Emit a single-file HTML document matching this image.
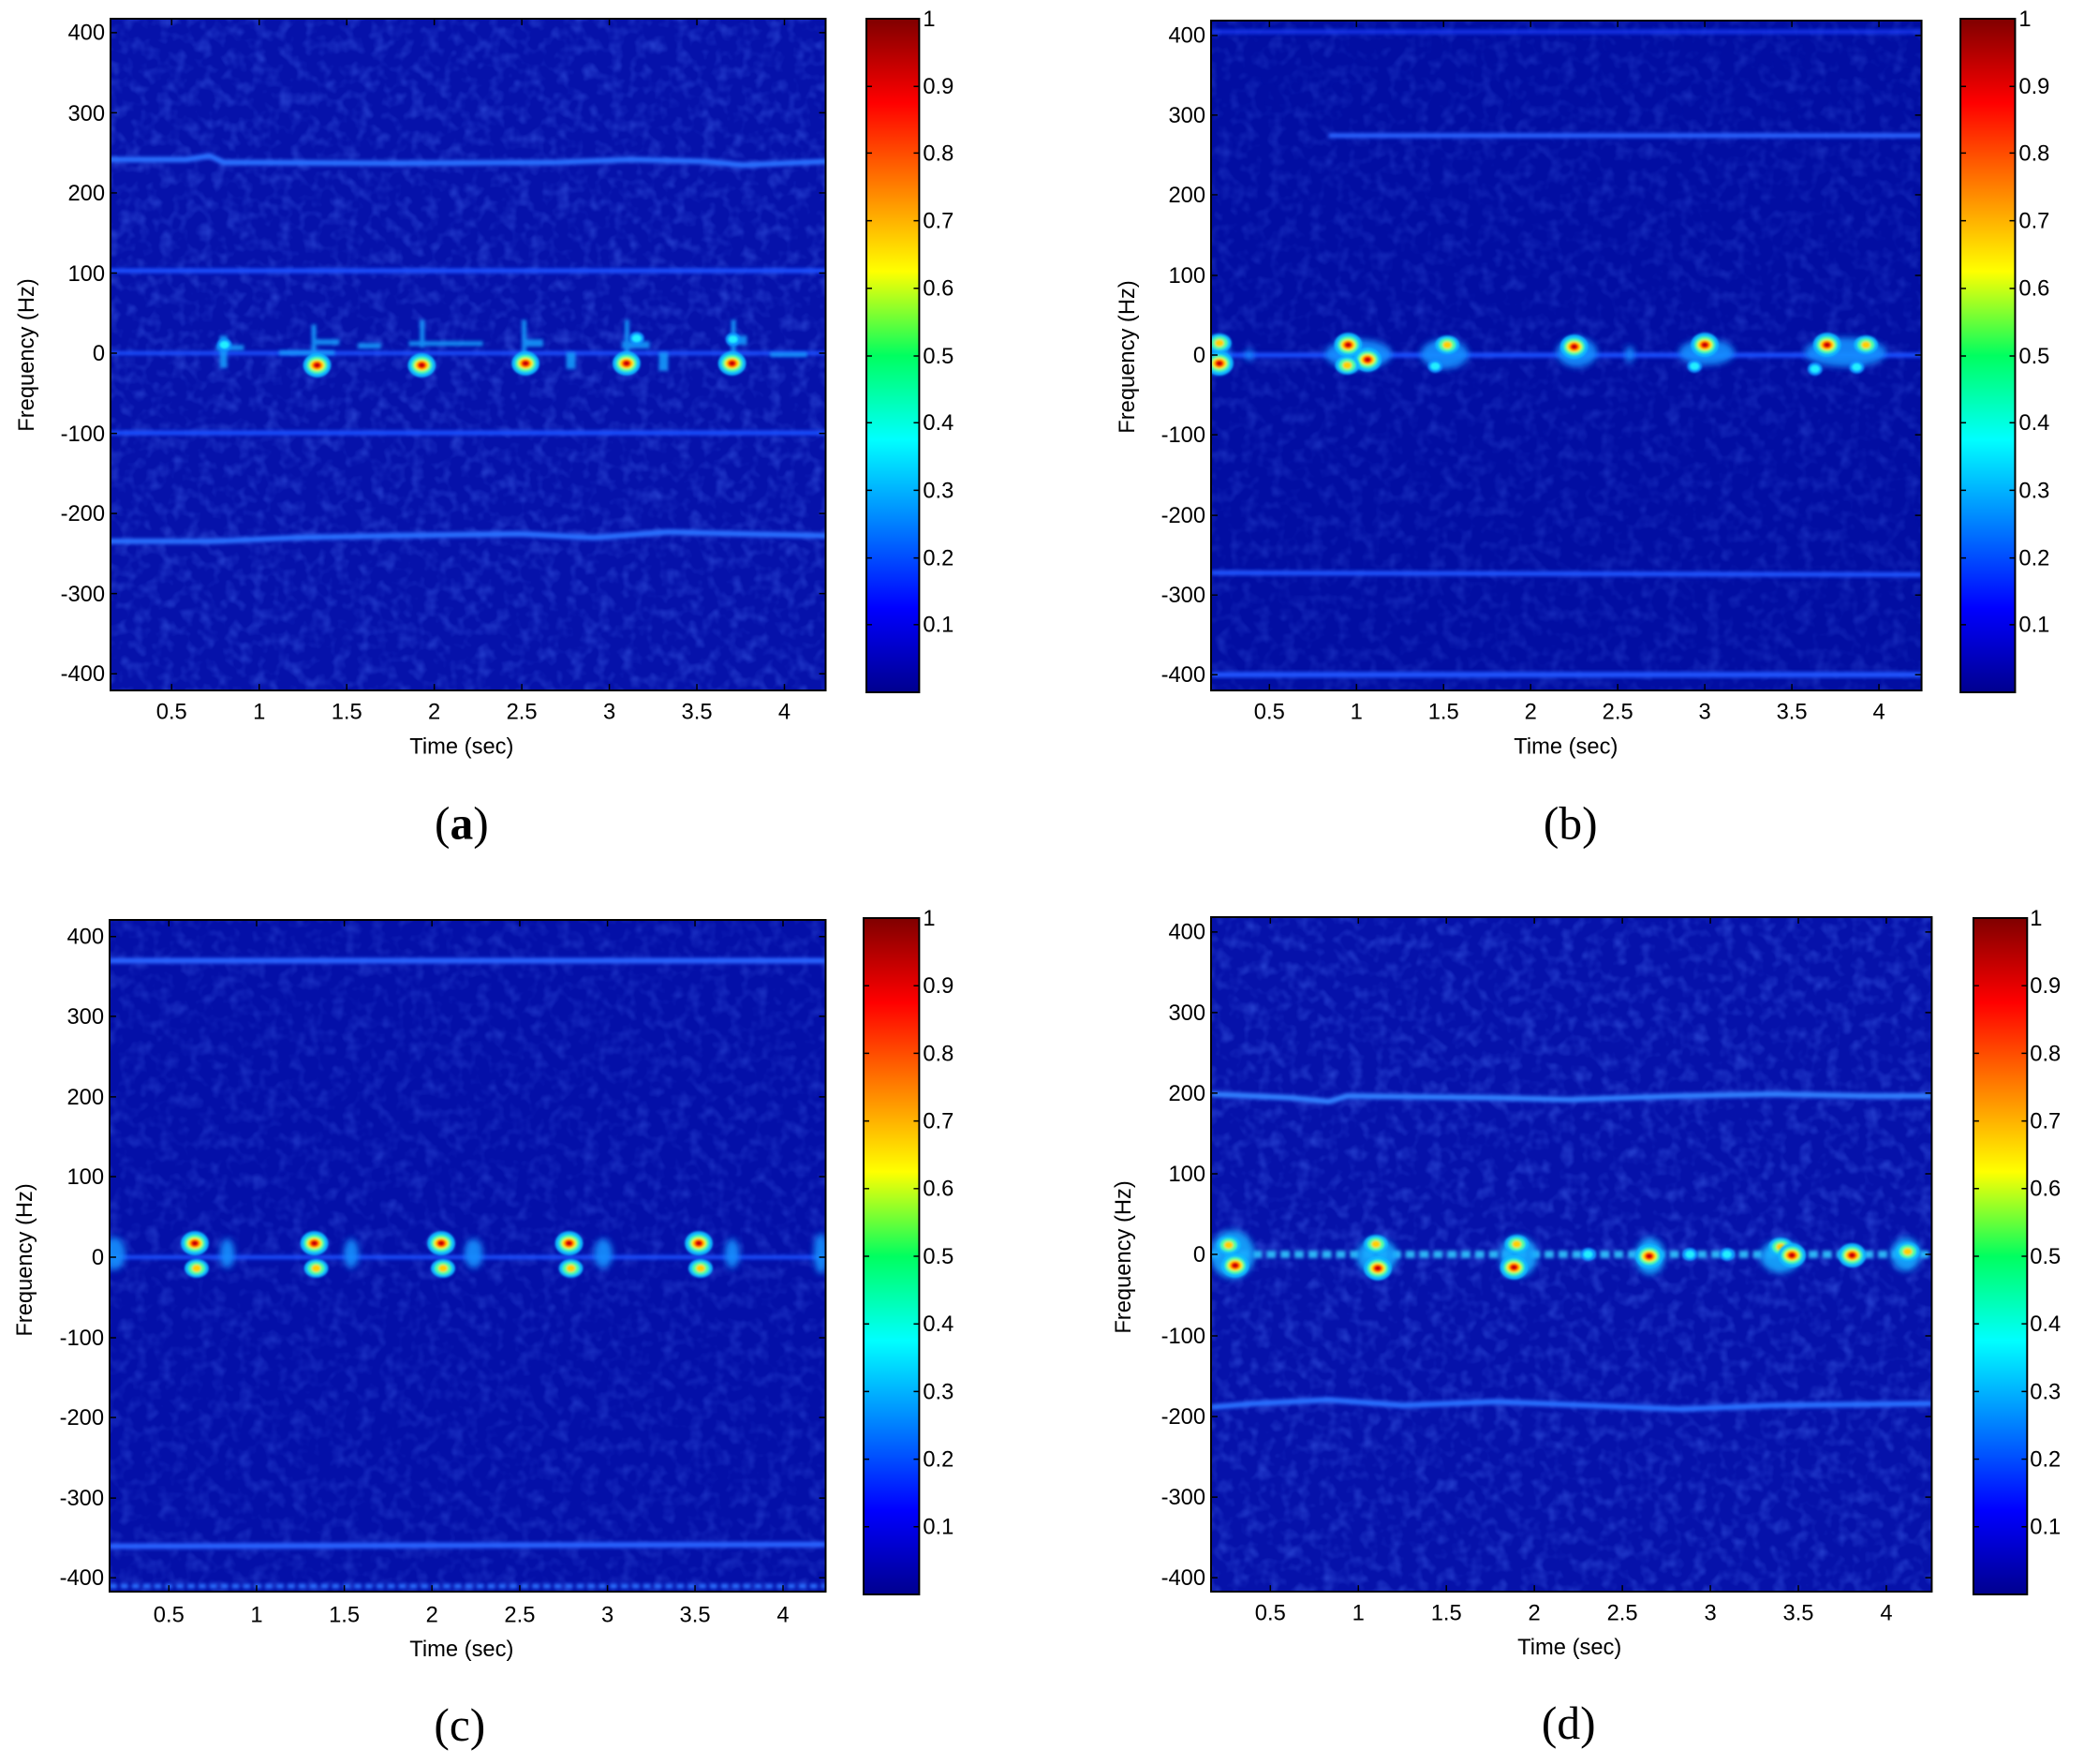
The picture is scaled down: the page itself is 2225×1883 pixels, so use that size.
<!DOCTYPE html>
<html><head><meta charset="utf-8"><style>
html,body{margin:0;padding:0;background:#fff;width:2225px;height:1883px;overflow:hidden}
svg{display:block}
.t{font-family:"Liberation Sans",sans-serif;font-size:24px;fill:#000}
.l{font-family:"Liberation Serif",serif;font-size:50px;fill:#000}
</style></head><body>
<svg width="2225" height="1883" viewBox="0 0 2225 1883" xmlns="http://www.w3.org/2000/svg">
<defs>
<linearGradient id="jet" x1="0" y1="1" x2="0" y2="0">
<stop offset="0" stop-color="#00008f"/><stop offset="0.125" stop-color="#0000ff"/>
<stop offset="0.375" stop-color="#00ffff"/><stop offset="0.5" stop-color="#00ff60"/>
<stop offset="0.625" stop-color="#ffff00"/><stop offset="0.875" stop-color="#ff0000"/>
<stop offset="1" stop-color="#800000"/></linearGradient>
<filter id="noise" x="0" y="0" width="100%" height="100%">
<feTurbulence type="fractalNoise" baseFrequency="0.07" numOctaves="2" seed="3"/>
<feColorMatrix values="0 0 0 0 0.08  0 0 0 0 0.2  0 0 0 0 1  1.8 0 0 0 -0.8"/>
</filter>
<filter id="bl" x="-20%" y="-50%" width="140%" height="200%"><feGaussianBlur stdDeviation="2"/></filter>
<filter id="bb" x="-30%" y="-80%" width="160%" height="260%"><feGaussianBlur stdDeviation="3.5"/></filter>
<filter id="bs" x="-50%" y="-50%" width="200%" height="200%"><feGaussianBlur stdDeviation="1.2"/></filter>
<g id="hot" filter="url(#bs)">
<ellipse rx="15" ry="13" fill="#10b8ff"/><ellipse rx="11" ry="9" fill="#50ffa0"/>
<ellipse rx="8" ry="6" fill="#ffe000"/><ellipse rx="5" ry="4" fill="#ff2000"/><ellipse rx="2.5" ry="2" fill="#b00000"/></g>
<g id="warm" filter="url(#bs)">
<ellipse rx="13" ry="10" fill="#10b8ff"/><ellipse rx="9" ry="7" fill="#50ffa0"/><ellipse rx="5" ry="4" fill="#ffd000"/></g>
<g id="cy" filter="url(#bs)"><ellipse rx="8" ry="7" fill="#1090ff"/><ellipse rx="5" ry="4" fill="#20f0ff"/></g>
<clipPath id="ca"><rect x="118" y="20" width="772" height="725"/></clipPath>
<clipPath id="cb"><rect x="1293" y="22" width="767" height="723"/></clipPath>
<clipPath id="cc"><rect x="117" y="982" width="773" height="725"/></clipPath>
<clipPath id="cd"><rect x="1293" y="979" width="778" height="728"/></clipPath>
</defs>

<!-- PANEL A -->
<g transform="translate(118,20) scale(0.989) translate(-118,-20)">
<g clip-path="url(#ca)">
<rect x="118" y="20" width="772" height="725" fill="#0612aa"/>
<rect x="118" y="20" width="772" height="725" filter="url(#noise)" opacity="0.45"/>
<g fill="none" stroke-linecap="round" filter="url(#bl)">
<path d="M118 172 L200 172 L225 168 L240 175 L420 176 L600 175 L680 172 L760 174 L800 178 L890 174" stroke="#2a70ff" stroke-width="6"/>
<path d="M118 292 L890 292" stroke="#1e50ff" stroke-width="5"/>
<path d="M118 467 L890 467" stroke="#1e50ff" stroke-width="5"/>
<path d="M118 584 L230 584 L320 580 L420 578 L560 576 L640 580 L720 574 L800 576 L890 578" stroke="#2a70ff" stroke-width="6"/>
<path d="M118 381 L890 381" stroke="#1a50ff" stroke-width="4"/>
</g>
<g fill="#18a0ff" filter="url(#bl)" opacity="0.85">
<rect x="236" y="362" width="8" height="35"/><rect x="232" y="372" width="30" height="6"/>
<rect x="335" y="350" width="5" height="50"/><rect x="300" y="378" width="60" height="5"/>
<rect x="340" y="366" width="25" height="6"/><rect x="385" y="370" width="25" height="6"/>
<rect x="452" y="345" width="5" height="30"/><rect x="440" y="368" width="80" height="5"/>
<rect x="562" y="345" width="5" height="40"/><rect x="565" y="366" width="20" height="8"/>
<rect x="610" y="380" width="10" height="18"/>
<rect x="673" y="345" width="5" height="50"/><rect x="670" y="368" width="30" height="8"/>
<rect x="710" y="380" width="10" height="20"/>
<rect x="788" y="345" width="5" height="50"/><rect x="785" y="362" width="20" height="10"/>
<rect x="830" y="380" width="40" height="5"/>
</g>
<use href="#hot" x="341" y="394"/><use href="#hot" x="454" y="394"/><use href="#hot" x="566" y="392"/>
<use href="#hot" x="675" y="392"/><use href="#hot" x="789" y="392"/>
<use href="#cy" x="686" y="365"/><use href="#cy" x="790" y="366"/><use href="#cy" x="241" y="372"/>
</g>
<rect x="118" y="20" width="772" height="725" fill="none" stroke="#000" stroke-width="2"/>
<g stroke="#000" stroke-width="1.5">
<path d="M118 35h7M118 121.5h7M118 208h7M118 294.5h7M118 381h7M118 467.5h7M118 554h7M118 640.5h7M118 727h7"/>
<path d="M890 35h-7M890 121.5h-7M890 208h-7M890 294.5h-7M890 381h-7M890 467.5h-7M890 554h-7M890 640.5h-7M890 727h-7"/>
<path d="M184 745v-7M278.5 745v-7M373 745v-7M467.5 745v-7M562 745v-7M656.5 745v-7M751 745v-7M845.5 745v-7"/>
<path d="M184 20v7M278.5 20v7M373 20v7M467.5 20v7M562 20v7M656.5 20v7M751 20v7M845.5 20v7"/>
</g>
<g class="t" text-anchor="end">
<text x="112" y="43">400</text><text x="112" y="130">300</text><text x="112" y="216">200</text><text x="112" y="303">100</text>
<text x="112" y="389">0</text><text x="112" y="476">-100</text><text x="112" y="562">-200</text><text x="112" y="649">-300</text><text x="112" y="735">-400</text></g>
<g class="t" text-anchor="middle">
<text x="184" y="776">0.5</text><text x="278.5" y="776">1</text><text x="373" y="776">1.5</text><text x="467.5" y="776">2</text>
<text x="562" y="776">2.5</text><text x="656.5" y="776">3</text><text x="751" y="776">3.5</text><text x="845.5" y="776">4</text>
<text x="497" y="813">Time (sec)</text></g>
<text class="t" text-anchor="middle" transform="translate(35,383) rotate(-90)">Frequency (Hz)</text>
<rect x="934" y="20" width="57" height="727" fill="url(#jet)" stroke="#000" stroke-width="2"/>
<g stroke="#000" stroke-width="1.5"><path d="M934 674h6M934 602h6M934 529h6M934 456h6M934 384h6M934 311h6M934 238h6M934 165h6M934 93h6M991 674h-6M991 602h-6M991 529h-6M991 456h-6M991 384h-6M991 311h-6M991 238h-6M991 165h-6M991 93h-6"/></g>
<g class="t"><text x="995" y="28">1</text><text x="995" y="101">0.9</text><text x="995" y="173">0.8</text><text x="995" y="246">0.7</text><text x="995" y="319">0.6</text><text x="995" y="392">0.5</text><text x="995" y="464">0.4</text><text x="995" y="537">0.3</text><text x="995" y="610">0.2</text><text x="995" y="682">0.1</text></g>
<text class="l" x="497" y="905" text-anchor="middle">(<tspan font-weight="bold">a</tspan>)</text>
</g>

<!-- PANEL B -->
<g transform="translate(1293,22) scale(0.989) translate(-1293,-22)">
<g clip-path="url(#cb)">
<rect x="1293" y="22" width="767" height="723" fill="#020ea2"/>
<rect x="1293" y="22" width="767" height="723" filter="url(#noise)" opacity="0.3"/>
<g fill="none" filter="url(#bl)">
<path d="M1293 34 L2060 34" stroke="#1840ff" stroke-width="5" opacity="0.7"/>
<path d="M1420 146 L2060 146" stroke="#2a64ff" stroke-width="5"/>
<path d="M1293 618 L2060 620" stroke="#2256ff" stroke-width="5"/>
<path d="M1293 728 L2060 728" stroke="#2256ff" stroke-width="6"/>
<path d="M1293 383 L2060 383" stroke="#1a50ff" stroke-width="5"/>
</g>
<g fill="#1890ff" filter="url(#bb)" opacity="0.9">
<ellipse cx="1300" cy="383" rx="14" ry="20"/><ellipse cx="1452" cy="382" rx="36" ry="16"/>
<ellipse cx="1545" cy="382" rx="26" ry="16"/><ellipse cx="1688" cy="380" rx="22" ry="16"/>
<ellipse cx="1828" cy="380" rx="30" ry="14"/><ellipse cx="1978" cy="380" rx="44" ry="16"/>
<ellipse cx="1334" cy="383" rx="5" ry="6"/><ellipse cx="1745" cy="382" rx="5" ry="9"/>
</g>
<use href="#hot" x="1302" y="392"/><use href="#warm" x="1302" y="370"/><use href="#hot" x="1441" y="372"/><use href="#hot" x="1462" y="388"/>
<use href="#warm" x="1440" y="394"/><use href="#warm" x="1548" y="372"/><use href="#cy" x="1535" y="395"/>
<use href="#hot" x="1685" y="374"/><use href="#hot" x="1826" y="372"/><use href="#cy" x="1815" y="395"/>
<use href="#hot" x="1958" y="372"/><use href="#cy" x="1945" y="398"/><use href="#warm" x="2000" y="372"/><use href="#cy" x="1990" y="396"/>
</g>
<rect x="1293" y="22" width="767" height="723" fill="none" stroke="#000" stroke-width="2"/>
<g stroke="#000" stroke-width="1.5">
<path d="M1293 38h7M1293 124h7M1293 210h7M1293 297h7M1293 383h7M1293 469h7M1293 556h7M1293 642h7M1293 728h7"/>
<path d="M2060 38h-7M2060 124h-7M2060 210h-7M2060 297h-7M2060 383h-7M2060 469h-7M2060 556h-7M2060 642h-7M2060 728h-7"/>
<path d="M1356 745v-7M1450 745v-7M1544 745v-7M1638 745v-7M1732 745v-7M1826 745v-7M1920 745v-7M2014 745v-7"/>
<path d="M1356 22v7M1450 22v7M1544 22v7M1638 22v7M1732 22v7M1826 22v7M1920 22v7M2014 22v7"/>
</g>
<g class="t" text-anchor="end">
<text x="1287" y="46">400</text><text x="1287" y="132">300</text><text x="1287" y="218">200</text><text x="1287" y="305">100</text>
<text x="1287" y="391">0</text><text x="1287" y="477">-100</text><text x="1287" y="564">-200</text><text x="1287" y="650">-300</text><text x="1287" y="736">-400</text></g>
<g class="t" text-anchor="middle">
<text x="1356" y="776">0.5</text><text x="1450" y="776">1</text><text x="1544" y="776">1.5</text><text x="1638" y="776">2</text>
<text x="1732" y="776">2.5</text><text x="1826" y="776">3</text><text x="1920" y="776">3.5</text><text x="2014" y="776">4</text>
<text x="1676" y="813">Time (sec)</text></g>
<text class="t" text-anchor="middle" transform="translate(1210,385) rotate(-90)">Frequency (Hz)</text>
<rect x="2102" y="20" width="59" height="727" fill="url(#jet)" stroke="#000" stroke-width="2"/>
<g stroke="#000" stroke-width="1.5"><path d="M2102 674h6M2102 602h6M2102 529h6M2102 456h6M2102 384h6M2102 311h6M2102 238h6M2102 165h6M2102 93h6M2161 674h-6M2161 602h-6M2161 529h-6M2161 456h-6M2161 384h-6M2161 311h-6M2161 238h-6M2161 165h-6M2161 93h-6"/></g>
<g class="t"><text x="2165" y="28">1</text><text x="2165" y="101">0.9</text><text x="2165" y="173">0.8</text><text x="2165" y="246">0.7</text><text x="2165" y="319">0.6</text><text x="2165" y="392">0.5</text><text x="2165" y="464">0.4</text><text x="2165" y="537">0.3</text><text x="2165" y="610">0.2</text><text x="2165" y="682">0.1</text></g>
<text class="l" x="1681" y="905" text-anchor="middle">(b)</text>
</g>

<!-- PANEL C -->
<g transform="translate(117,982) scale(0.989) translate(-117,-982)">
<g clip-path="url(#cc)">
<rect x="117" y="982" width="773" height="725" fill="#0410a8"/>
<rect x="117" y="982" width="773" height="725" filter="url(#noise)" opacity="0.35"/>
<g fill="none" filter="url(#bl)">
<path d="M117 1026 L890 1026" stroke="#2a64ff" stroke-width="6"/>
<path d="M117 1658 L890 1656" stroke="#2a64ff" stroke-width="6"/>
<path d="M117 1701 L890 1701" stroke="#2a70ff" stroke-width="5" stroke-dasharray="8 4"/>
<path d="M117 1346 L890 1346" stroke="#1a50ff" stroke-width="4"/>
</g>
<g fill="#1890ff" filter="url(#bb)" opacity="0.9">
<ellipse cx="122" cy="1342" rx="12" ry="18"/><ellipse cx="244" cy="1342" rx="8" ry="16"/>
<ellipse cx="378" cy="1342" rx="8" ry="16"/><ellipse cx="510" cy="1342" rx="10" ry="16"/>
<ellipse cx="650" cy="1342" rx="10" ry="16"/><ellipse cx="789" cy="1342" rx="8" ry="16"/>
<ellipse cx="885" cy="1342" rx="8" ry="22"/>
</g>
<use href="#hot" x="209" y="1331"/><use href="#warm" x="211" y="1358"/><use href="#hot" x="338" y="1331"/><use href="#warm" x="340" y="1358"/>
<use href="#hot" x="475" y="1331"/><use href="#warm" x="477" y="1358"/><use href="#hot" x="613" y="1331"/><use href="#warm" x="615" y="1358"/>
<use href="#hot" x="753" y="1331"/><use href="#warm" x="755" y="1358"/>
</g>
<rect x="117" y="982" width="773" height="725" fill="none" stroke="#000" stroke-width="2"/>
<g stroke="#000" stroke-width="1.5">
<path d="M117 1000h7M117 1086h7M117 1173h7M117 1259h7M117 1346h7M117 1433h7M117 1519h7M117 1606h7M117 1692h7"/>
<path d="M890 1000h-7M890 1086h-7M890 1173h-7M890 1259h-7M890 1346h-7M890 1433h-7M890 1519h-7M890 1606h-7M890 1692h-7"/>
<path d="M181 1707v-7M275.7 1707v-7M370.4 1707v-7M465 1707v-7M559.8 1707v-7M654.5 1707v-7M749 1707v-7M844 1707v-7"/>
<path d="M181 982v7M275.7 982v7M370.4 982v7M465 982v7M559.8 982v7M654.5 982v7M749 982v7M844 982v7"/>
</g>
<g class="t" text-anchor="end">
<text x="111" y="1008">400</text><text x="111" y="1094">300</text><text x="111" y="1181">200</text><text x="111" y="1267">100</text>
<text x="111" y="1354">0</text><text x="111" y="1441">-100</text><text x="111" y="1527">-200</text><text x="111" y="1614">-300</text><text x="111" y="1700">-400</text></g>
<g class="t" text-anchor="middle">
<text x="181" y="1740">0.5</text><text x="275.7" y="1740">1</text><text x="370.4" y="1740">1.5</text><text x="465" y="1740">2</text>
<text x="559.8" y="1740">2.5</text><text x="654.5" y="1740">3</text><text x="749" y="1740">3.5</text><text x="844" y="1740">4</text>
<text x="497" y="1777">Time (sec)</text></g>
<text class="t" text-anchor="middle" transform="translate(33,1349) rotate(-90)">Frequency (Hz)</text>
<rect x="931" y="980" width="60" height="730" fill="url(#jet)" stroke="#000" stroke-width="2"/>
<g stroke="#000" stroke-width="1.5"><path d="M931 1637h6M931 1564h6M931 1491h6M931 1418h6M931 1345h6M931 1272h6M931 1199h6M931 1126h6M931 1053h6M991 1637h-6M991 1564h-6M991 1491h-6M991 1418h-6M991 1345h-6M991 1272h-6M991 1199h-6M991 1126h-6M991 1053h-6"/></g>
<g class="t"><text x="995" y="988">1</text><text x="995" y="1061">0.9</text><text x="995" y="1134">0.8</text><text x="995" y="1207">0.7</text><text x="995" y="1280">0.6</text><text x="995" y="1353">0.5</text><text x="995" y="1426">0.4</text><text x="995" y="1499">0.3</text><text x="995" y="1572">0.2</text><text x="995" y="1645">0.1</text></g>
<text class="l" x="495" y="1868" text-anchor="middle">(c)</text>
</g>

<!-- PANEL D -->
<g transform="translate(1293,979) scale(0.989) translate(-1293,-979)">
<g clip-path="url(#cd)">
<rect x="1293" y="979" width="778" height="728" fill="#0612aa"/>
<rect x="1293" y="979" width="778" height="728" filter="url(#noise)" opacity="0.45"/>
<g fill="none" filter="url(#bl)">
<path d="M1293 1170 L1380 1174 L1420 1178 L1440 1172 L1600 1174 L1680 1176 L1800 1172 L1900 1170 L2000 1172 L2071 1172" stroke="#3080ff" stroke-width="6"/>
<path d="M1293 1508 L1340 1504 L1420 1500 L1500 1506 L1600 1502 L1700 1506 L1800 1510 L1900 1506 L2071 1504" stroke="#2a70ff" stroke-width="6"/>
<path d="M1293 1343 L2071 1343" stroke="#30c8ff" stroke-width="8" stroke-dasharray="10 5" opacity="0.9"/>
</g>
<g fill="#18a8ff" filter="url(#bb)" opacity="0.9">
<ellipse cx="1316" cy="1343" rx="24" ry="26"/><ellipse cx="1472" cy="1345" rx="22" ry="20"/>
<ellipse cx="1625" cy="1345" rx="20" ry="22"/><ellipse cx="1767" cy="1345" rx="16" ry="20"/>
<ellipse cx="1908" cy="1345" rx="22" ry="18"/><ellipse cx="2043" cy="1343" rx="16" ry="18"/>
</g>
<use href="#hot" x="1319" y="1355"/><use href="#warm" x="1312" y="1333"/><use href="#warm" x="1471" y="1332"/><use href="#hot" x="1473" y="1358"/>
<use href="#warm" x="1623" y="1332"/><use href="#hot" x="1620" y="1357"/><use href="#hot" x="1766" y="1345"/>
<use href="#warm" x="1908" y="1335"/><use href="#hot" x="1920" y="1344"/><use href="#hot" x="1985" y="1344"/><use href="#warm" x="2045" y="1340"/>
<use href="#cy" x="1810" y="1343"/><use href="#cy" x="1850" y="1343"/><use href="#cy" x="1700" y="1343"/>
</g>
<rect x="1293" y="979" width="778" height="728" fill="none" stroke="#000" stroke-width="2"/>
<g stroke="#000" stroke-width="1.5">
<path d="M1293 995h7M1293 1082h7M1293 1169h7M1293 1256h7M1293 1343h7M1293 1431h7M1293 1518h7M1293 1605h7M1293 1692h7"/>
<path d="M2071 995h-7M2071 1082h-7M2071 1169h-7M2071 1256h-7M2071 1343h-7M2071 1431h-7M2071 1518h-7M2071 1605h-7M2071 1692h-7"/>
<path d="M1357 1707v-7M1452 1707v-7M1547 1707v-7M1642 1707v-7M1737 1707v-7M1832 1707v-7M1927 1707v-7M2022 1707v-7"/>
<path d="M1357 979v7M1452 979v7M1547 979v7M1642 979v7M1737 979v7M1832 979v7M1927 979v7M2022 979v7"/>
</g>
<g class="t" text-anchor="end">
<text x="1287" y="1003">400</text><text x="1287" y="1090">300</text><text x="1287" y="1177">200</text><text x="1287" y="1264">100</text>
<text x="1287" y="1351">0</text><text x="1287" y="1439">-100</text><text x="1287" y="1526">-200</text><text x="1287" y="1613">-300</text><text x="1287" y="1700">-400</text></g>
<g class="t" text-anchor="middle">
<text x="1357" y="1738">0.5</text><text x="1452" y="1738">1</text><text x="1547" y="1738">1.5</text><text x="1642" y="1738">2</text>
<text x="1737" y="1738">2.5</text><text x="1832" y="1738">3</text><text x="1927" y="1738">3.5</text><text x="2022" y="1738">4</text>
<text x="1680" y="1775">Time (sec)</text></g>
<text class="t" text-anchor="middle" transform="translate(1206,1346) rotate(-90)">Frequency (Hz)</text>
<rect x="2116" y="980" width="58" height="730" fill="url(#jet)" stroke="#000" stroke-width="2"/>
<g stroke="#000" stroke-width="1.5"><path d="M2116 1637h6M2116 1564h6M2116 1491h6M2116 1418h6M2116 1345h6M2116 1272h6M2116 1199h6M2116 1126h6M2116 1053h6M2174 1637h-6M2174 1564h-6M2174 1491h-6M2174 1418h-6M2174 1345h-6M2174 1272h-6M2174 1199h-6M2174 1126h-6M2174 1053h-6"/></g>
<g class="t"><text x="2177" y="988">1</text><text x="2177" y="1061">0.9</text><text x="2177" y="1134">0.8</text><text x="2177" y="1207">0.7</text><text x="2177" y="1280">0.6</text><text x="2177" y="1353">0.5</text><text x="2177" y="1426">0.4</text><text x="2177" y="1499">0.3</text><text x="2177" y="1572">0.2</text><text x="2177" y="1645">0.1</text></g>
<text class="l" x="1679" y="1866" text-anchor="middle">(d)</text>
</g>
</svg>
</body></html>
